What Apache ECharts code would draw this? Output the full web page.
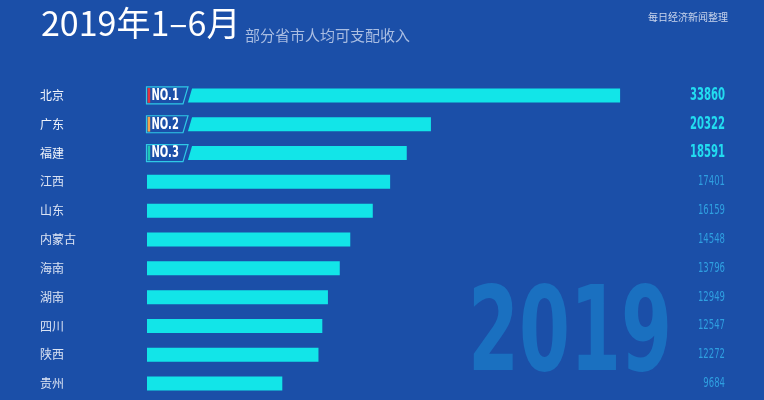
<!DOCTYPE html>
<html><head><meta charset="utf-8">
<script src="https://cdn.jsdelivr.net/npm/echarts@6/dist/echarts.min.js"></script>
<style>html,body{margin:0;padding:0;background:#1b4fa8}#c{width:764px;height:400px}</style>
</head><body><div id="c"></div>
<script>
const provinces = ['北京','广东','福建','江西','山东','内蒙古','海南','湖南','四川','陕西','贵州'];
const incomes = [33860,20322,18591,17401,16159,14548,13796,12949,12547,12272,9684];
const rankLabels = ['NO.1','NO.2','NO.3'];
const rankColors = ['#e0353f','#f2a54a','#1fc6b4'];
const titleMain = '2019年1–6月';
const titleSub = '部分省市人均可支配收入';
const sourceText = '每日经济新闻整理';
const watermark = '2019';

const NARROW = "'DejaVu Sans Condensed','DejaVu Sans',sans-serif";
const CJK = "'Noto Sans CJK SC','Noto Sans',sans-serif";
const BG = '#1b4fa8';
const X_MAX = 36000;

const chart = echarts.init(document.getElementById('c'), null, {renderer:'canvas'});
chart.setOption({
  backgroundColor: BG,
  animation: false,
  title: [
    {text: titleMain, left: 36, top: 1, textStyle: {color:'#ffffff', fontSize:34, fontWeight:'normal', fontFamily:CJK}},
    {text: titleSub, left: 240, top: 23, textStyle: {color:'#a9bde2', fontSize:15, fontWeight:'normal', fontFamily:CJK}},
    {text: sourceText, left: 643, top: 7, textStyle: {color:'#c9d5ec', fontSize:10, fontWeight:'normal', fontFamily:CJK}}
  ],
  graphic: [{
    type:'text', x:468, y:280, scaleX:0.69, z:-1,
    style:{text: watermark, fontSize:118, fontWeight:'bold', fontFamily:NARROW, fill:'#1a70c0', verticalAlign:'top'}
  }],
  grid: {left:147, top:81, width:503, height:317},
  xAxis: {type:'value', min:0, max:X_MAX, show:false},
  yAxis: {type:'category', data:provinces, inverse:true,
     axisLine:{show:false}, axisTick:{show:false}, splitLine:{show:false},
     axisLabel:{align:'left', margin:107, fontSize:12, fontFamily:CJK,
       color:(v,i)=> i<3 ? '#f2f5fb' : '#dbe3f3'}},
  series: [
    {type:'bar', data:incomes, barWidth:14, itemStyle:{color:'#12e5e8'}},
    {type:'custom', z:5,
     data: incomes.map((v,i)=>[v,i]),
     encode:{x:0, y:1},
     renderItem:(params, api)=>{
       const v = api.value(0), i = api.value(1);
       const p = api.coord([X_MAX, i]);
       const top = i < 3;
       return {type:'text', x:p[0]+75, y:p[1], scaleX: top ? 0.66 : 0.7,
         style:{text:String(v), fill: top ? '#22dcf0' : '#2f9fe0',
           fontSize: top ? 17 : 13.5, fontWeight: top ? 'bold' : 'normal',
           fontFamily:NARROW, align:'right', verticalAlign:'middle'}};
     }},
    {type:'custom', z:10,
     data: rankLabels.map((t,i)=>[0,i]),
     encode:{x:0, y:1},
     renderItem:(params, api)=>{
       const i = api.value(1);
       const p = api.coord([0, i]);
       const x0 = p[0], cy = p[1];
       return {type:'group', children:[
         {type:'polygon', shape:{points:[[x0-2,cy-9.5],[x0+45.8,cy-9.5],[x0+40.2,cy+9.5],[x0-2,cy+9.5]]},
          style:{fill:BG}},
         {type:'polygon', shape:{points:[[x0-0.5,cy-8.5],[x0+41,cy-8.5],[x0+36,cy+8.5],[x0-0.5,cy+8.5]]},
          style:{fill:BG, stroke:'#2fc9e6', lineWidth:1.2}},
         {type:'rect', shape:{x:x0+0.6, y:cy-7.4, width:2.6, height:14.8},
          style:{fill:rankColors[i]}},
         {type:'text', x:x0+4.5, y:cy+0.5, scaleX:0.74,
          style:{text:rankLabels[i], fill:'#ffffff', fontSize:15, fontWeight:'bold', fontFamily:NARROW, verticalAlign:'middle', align:'left'}}
       ]};
     }}
  ]
});
</script></body></html>
